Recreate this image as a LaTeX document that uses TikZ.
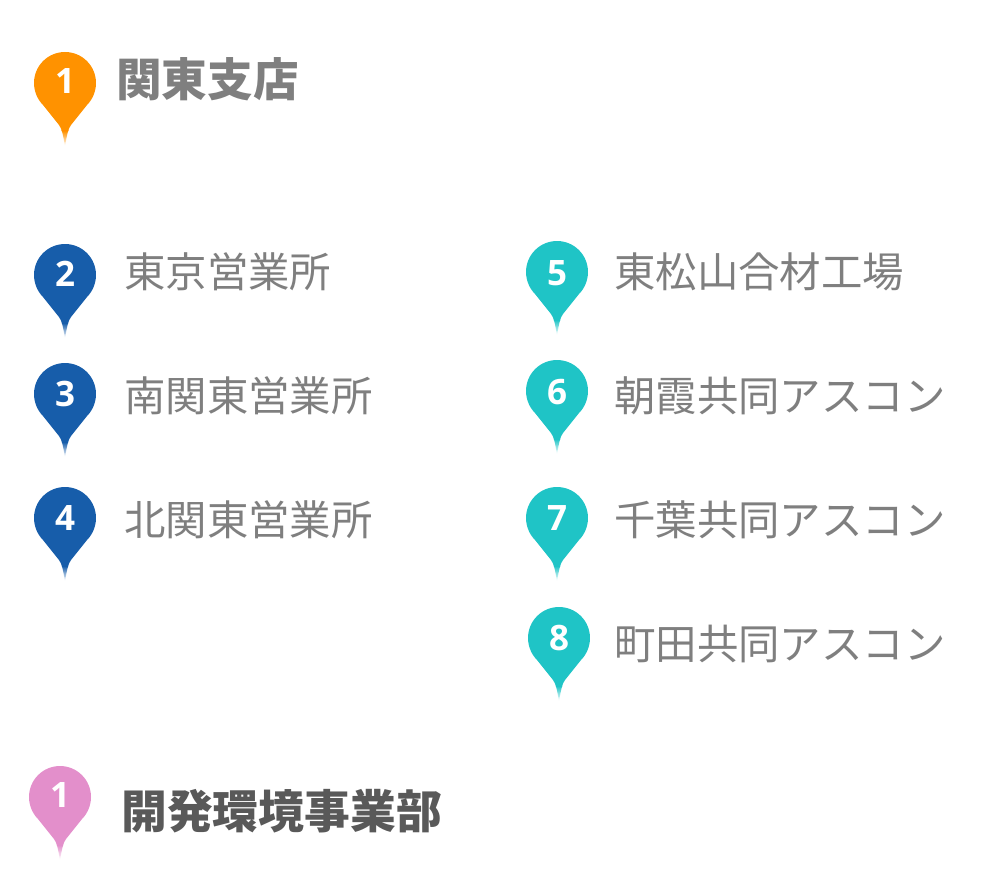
\documentclass[tikz,border=0pt]{standalone}
\usepackage{fontspec}
\setmainfont{Noto Sans}
\newfontfamily\cjk{Noto Sans CJK JP}
\newfontfamily\numfont{Open Sans}
\definecolor{pinorange}{HTML}{FF9200}
\definecolor{pinblue}{HTML}{175DAA}
\definecolor{pinteal}{HTML}{1FC4C6}
\definecolor{pinpink}{HTML}{E38FCB}
\definecolor{txtgray}{HTML}{7F7F7F}
\definecolor{txtdark}{HTML}{595959}
\tikzset{
  x=1pt,y=-1pt,
  pinnum/.style={text=white,inner sep=0,font=\numfont\bfseries\fontsize{35}{35}\selectfont},
  lighttext/.style={anchor=base west,inner sep=0,text=txtgray,font=\cjk\fontsize{41.4}{41.4}\selectfont},
  headtext/.style={anchor=base west,inner sep=0,text=txtgray,font=\cjk\bfseries\fontsize{45.6}{45.6}\selectfont},
  darktext/.style={anchor=base west,inner sep=0,text=txtdark,font=\cjk\bfseries\fontsize{45.8}{45.8}\selectfont},
}
% name, x, y of head centre, colour, number, y of number
\newcommand{\mappin}[6]{%
  \begin{scope}[shift={(#2,#3)}]
    \begin{scope}
      \clip (-31,0) arc[start angle=180,end angle=360,radius=31]
        .. controls (31,9) and (27,17) .. (22,22)
        -- (6,42) .. controls (3,46) and (2,52) .. (0,63)
        .. controls (-2,52) and (-3,46) .. (-6,42)
        -- (-22,22) .. controls (-27,17) and (-31,9) .. (-31,0) -- cycle;
      \fill[#4] (-32,-32) rectangle (32,49);
      \shade[top color=#4,bottom color=white,shading angle=0] (-32,48) rectangle (32,63);
    \end{scope}
  \end{scope}
  \node[pinnum] (#1) at (#2,#6) {#5};
}
\begin{document}
\begin{tikzpicture}
\useasboundingbox (0,0) rectangle (982,872);
\mappin{p1}{65}{83}{pinorange}{1}{81}
\mappin{p2}{65}{275}{pinblue}{2}{274}
\mappin{p3}{65}{394}{pinblue}{3}{393.5}
\mappin{p4}{65}{518}{pinblue}{4}{518}
\mappin{p5}{557}{272}{pinteal}{5}{273}
\mappin{p6}{557}{391}{pinteal}{6}{392}
\mappin{p7}{557}{518}{pinteal}{7}{518}
\mappin{p8}{559}{638}{pinteal}{8}{638}
\mappin{p9}{60}{797}{pinpink}{1}{795}
\node[headtext] (t1) at (116,97) {関東支店};
\node[lighttext] (t2) at (124,287) {東京営業所};
\node[lighttext] (t3) at (124,411) {南関東営業所};
\node[lighttext] (t4) at (124,535) {北関東営業所};
\node[lighttext] (t5) at (614,287) {東松山合材工場};
\node[lighttext] (t6) at (614,411) {朝霞共同アスコン};
\node[lighttext] (t7) at (614,535) {千葉共同アスコン};
\node[lighttext] (t8) at (614,659) {町田共同アスコン};
\node[darktext] (t9) at (121,828) {開発環境事業部};
\end{tikzpicture}
\end{document}
